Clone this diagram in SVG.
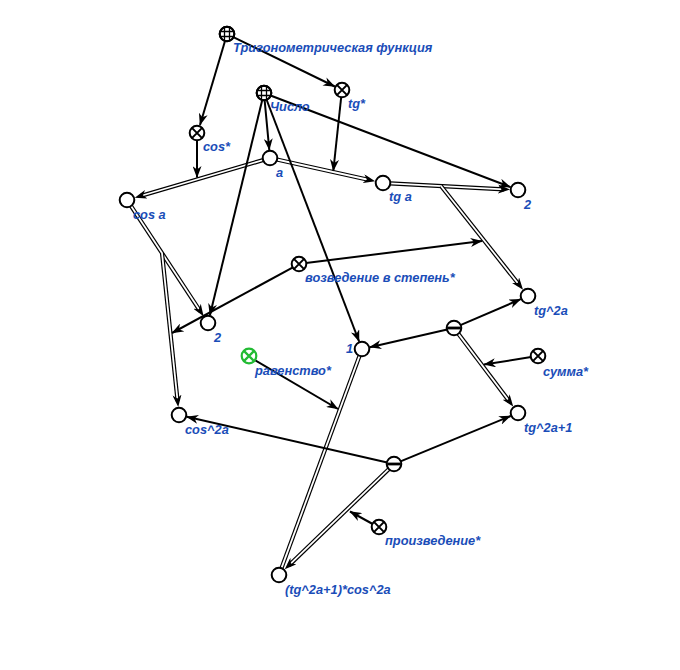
<svg xmlns="http://www.w3.org/2000/svg" width="680" height="670" viewBox="0 0 680 670">
<style>
.s{stroke:#000;stroke-width:2;fill:none}
.db{stroke:#000;stroke-width:4.2;fill:none}
.dw{stroke:#fff;stroke-width:1.8;fill:none}
.n{fill:#fff;stroke:#000;stroke-width:2}
.g{fill:#fff;stroke:#22bb33;stroke-width:2.2}
.t{font-family:"Liberation Sans",Arial,sans-serif;font-size:12.8px;font-weight:bold;font-style:italic;fill:#1a4db8}
</style>
<defs>
<marker id="a" markerUnits="userSpaceOnUse" markerWidth="12" markerHeight="9" refX="11.5" refY="4.5" orient="auto">
<path d="M0,0 L12,4.5 L0,9 L3.5,4.5 Z" fill="#000"/>
</marker>
<marker id="ad" markerUnits="userSpaceOnUse" markerWidth="12" markerHeight="9" refX="6" refY="4.5" orient="auto">
<path d="M0,0 L12,4.5 L0,9 L3.5,4.5 Z" fill="#000"/>
</marker>
<g id="grid">
<circle r="7.3" class="n"/>
<path d="M-2.5,-6.8V6.8M2.5,-6.8V6.8M-6.8,-2.5H6.8M-6.8,2.5H6.8" stroke="#000" stroke-width="1.3"/>
<circle r="7.3" fill="none" stroke="#000" stroke-width="2"/>
</g>
<g id="cross">
<circle r="7.3" class="n"/>
<path d="M-5.1,-5.1L5.1,5.1M5.1,-5.1L-5.1,5.1" stroke="#000" stroke-width="2"/>
</g>
<g id="crossg">
<circle r="7.3" class="g"/>
<path d="M-5.1,-5.1L5.1,5.1M5.1,-5.1L-5.1,5.1" stroke="#22bb33" stroke-width="2.2"/>
</g>
<g id="minus">
<circle r="7.3" class="n"/>
<path d="M-6.8,0H6.8" stroke="#000" stroke-width="2.8"/>
</g>
<circle id="plain" r="7.3" class="n"/>
</defs>

<g id="connectors">
<g>
<path class="db" d="M263.3,160 L140.5,196"/><path class="dw" d="M263.3,160 L140.5,196" marker-end="url(#ad)"/>
<path class="db" d="M276.8,159.5 L369.3,180"/><path class="dw" d="M276.8,159.5 L369.3,180" marker-end="url(#ad)"/>
<path class="db" d="M390,183.4 L504,189.3"/><path class="dw" d="M390,183.4 L504,189.3" marker-end="url(#ad)"/>
<path class="db" d="M441,186 L519.3,285"/><path class="dw" d="M441,186 L519.3,285" marker-end="url(#ad)"/>
<path class="db" d="M130.9,205.8 L200.3,311.3"/><path class="dw" d="M130.9,205.8 L200.3,311.3" marker-end="url(#ad)"/>
<path class="db" d="M162,253 L177.6,401"/><path class="dw" d="M162,253 L177.6,401" marker-end="url(#ad)"/>
<path class="db" d="M458.2,333.6 L509.6,401.8"/><path class="dw" d="M458.2,333.6 L509.6,401.8" marker-end="url(#ad)"/>
<path class="db" d="M359.6,355.6 L281.4,568.4"/><path class="dw" d="M359.6,355.6 L281.4,568.4"/>
<path class="db" d="M389,468.9 L289.1,565.2"/><path class="dw" d="M389,468.9 L289.1,565.2" marker-end="url(#ad)"/>
</g>
<g marker-end="url(#a)">
<path class="s" d="M225,41 L200,125"/>
<path class="s" d="M233.3,37.1 L334.8,86.5"/>
<path class="s" d="M264.6,100 L269.3,150"/>
<path class="s" d="M270.5,95.5 L510.5,187.1"/>
<path class="s" d="M262.3,99.8 L209.9,315.2"/>
<path class="s" d="M266.5,99.5 L359.1,341.5"/>
<path class="s" d="M197,140 L197,177.5"/>
<path class="s" d="M341.2,97 L333.3,171"/>
<path class="s" d="M306,263.1 L482,241"/>
<path class="s" d="M292.9,267.4 L172,333"/>
<path class="s" d="M460.4,325.2 L520.7,299.2"/>
<path class="s" d="M447.2,329.6 L369.8,347.2"/>
<path class="s" d="M531.1,357.1 L484,364.5"/>
<path class="s" d="M254,359.6 L338,409"/>
<path class="s" d="M387.2,462.4 L186.8,416.8"/>
<path class="s" d="M400.5,461.3 L510.6,416"/>
<path class="s" d="M372.7,524 L350,511.5"/>
</g>
</g>

<g id="n-trig"><use href="#grid" x="227" y="34"/><text class="t" x="233" y="52">Тригонометрическая функция</text></g>
<g id="n-tgstar"><use href="#cross" x="342" y="90"/><text class="t" x="348" y="108">tg*</text></g>
<g id="n-chislo"><use href="#grid" x="264" y="93"/><text class="t" x="270" y="111">Число</text></g>
<g id="n-cosstar"><use href="#cross" x="197" y="133"/><text class="t" x="203" y="151">cos*</text></g>
<g id="n-a"><use href="#plain" x="270" y="158"/><text class="t" x="276" y="177">a</text></g>
<g id="n-tga"><use href="#plain" x="383" y="183"/><text class="t" x="389" y="201">tg a</text></g>
<g id="n-2top"><use href="#plain" x="518" y="190"/><text class="t" x="524" y="209">2</text></g>
<g id="n-cosa"><use href="#plain" x="127" y="200"/><text class="t" x="133" y="219">cos a</text></g>
<g id="n-pow"><use href="#cross" x="299" y="264"/><text class="t" x="305" y="282">возведение в степень*</text></g>
<g id="n-tg2a"><use href="#plain" x="528" y="296"/><text class="t" x="534" y="315">tg^2a</text></g>
<g id="n-2mid"><use href="#plain" x="208" y="323"/><text class="t" x="214" y="342">2</text></g>
<g id="n-minus1"><use href="#minus" x="454" y="328"/></g>
<g id="n-1"><use href="#plain" x="362" y="349"/><text class="t" x="353" y="353" text-anchor="end">1</text></g>
<g id="n-eq"><use href="#crossg" x="249" y="356"/><text class="t" x="255" y="375">равенство*</text></g>
<g id="n-sum"><use href="#cross" x="538" y="356"/><text class="t" x="543" y="376">сумма*</text></g>
<g id="n-cos2a"><use href="#plain" x="179" y="415"/><text class="t" x="185" y="434">cos^2a</text></g>
<g id="n-tg2a1"><use href="#plain" x="518" y="413"/><text class="t" x="524" y="432">tg^2a+1</text></g>
<g id="n-minus2"><use href="#minus" x="394" y="464"/></g>
<g id="n-prod"><use href="#cross" x="379" y="527"/><text class="t" x="385" y="545">произведение*</text></g>
<g id="n-res"><use href="#plain" x="279" y="575"/><text class="t" x="285" y="594">(tg^2a+1)*cos^2a</text></g>
</svg>
